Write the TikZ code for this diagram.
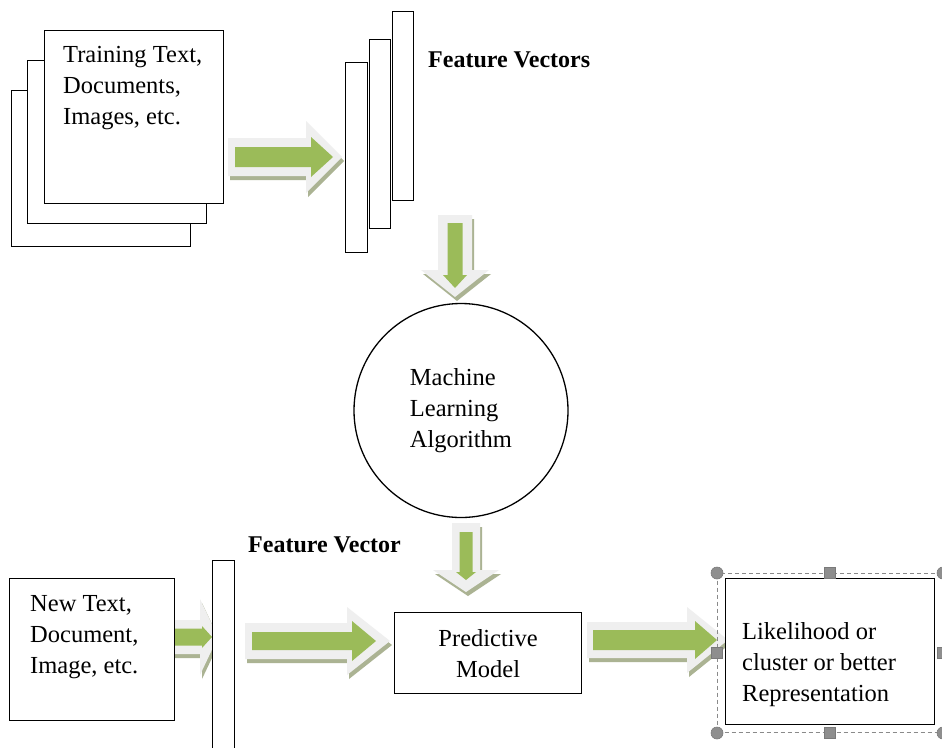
\documentclass[tikz,border=0pt]{standalone}
\usepackage{fontspec}
\setmainfont{Liberation Serif}
\definecolor{agreen}{HTML}{9BBB59}
\definecolor{abevel}{HTML}{EFEFEF}
\definecolor{ashadow}{HTML}{ABB393}
\definecolor{hgray}{HTML}{8E8E8E}
\definecolor{hedge}{HTML}{7A7A7A}
\definecolor{selgray}{HTML}{8A8A8A}

\pgfkeys{/ba/.cd, L/.store in=\baL, hl/.store in=\baHL, gs/.store in=\baGS, gh/.store in=\baGH,
  os/.store in=\baOS, oh/.store in=\baOH, ob/.store in=\baOB, ot/.store in=\baOT, oo/.store in=\baOO}

\newcommand{\blockarrow}[3]{%
  \pgfkeys{/ba/.cd,#1}%
  \begin{scope}[shift={#2}, xshift=2pt, yshift=-4pt, rotate=#3]
    \fill[ashadow] (\baOO,\baOS) -- (\baOB,\baOS) -- (\baOB,\baOH) -- (\baOT,0) -- (\baOB,-\baOH) -- (\baOB,-\baOS) -- (\baOO,-\baOS) -- cycle;
  \end{scope}
  \begin{scope}[shift={#2}, rotate=#3]
    \fill[abevel] (\baOO,\baOS) -- (\baOB,\baOS) -- (\baOB,\baOH) -- (\baOT,0) -- (\baOB,-\baOH) -- (\baOB,-\baOS) -- (\baOO,-\baOS) -- cycle;
    \fill[agreen] (0,\baGS) -- ({\baL-\baHL},\baGS) -- ({\baL-\baHL},\baGH) -- (\baL,0) -- ({\baL-\baHL},-\baGH) -- ({\baL-\baHL},-\baGS) -- (0,-\baGS) -- cycle;
  \end{scope}}

\begin{document}
\begin{tikzpicture}[x=1pt,y=-1pt,
  box/.style={draw, line width=1.3pt, fill=white, inner sep=0pt, anchor=north west},
  txt/.style={font=\fontsize{24.5}{31}\selectfont, inner sep=0pt, align=left, anchor=north west},
  boldlabel/.style={font=\bfseries\fontsize{24}{29}\selectfont, inner sep=0pt, anchor=base west},
  roundhandle/.style={circle, fill=hgray, draw=hedge, line width=0.6pt, minimum size=12pt, inner sep=0pt},
  squarehandle/.style={rectangle, fill=hgray, draw=hedge, line width=0.6pt, minimum size=11pt, inner sep=0pt}]
\useasboundingbox (0,0) rectangle (942,747);
\clip (0,0) rectangle (942,747);
\fill[white] (0,0) rectangle (942,747);

% block arrows
\blockarrow{L=98,hl=22,gs=10,gh=20,oo=-7,ob=71,ot=107,os=19,oh=36}{(235,157)}{0}
\blockarrow{L=65,hl=13,gs=7.5,gh=12,oo=-8,ob=47,ot=74,os=17,oh=34}{(455,223)}{-90}
\blockarrow{L=48,hl=8,gs=6.5,gh=10,oo=-9,ob=38,ot=60,os=14,oh=33}{(466,532)}{-90}
\blockarrow{L=37,hl=10,gs=8.5,gh=11,oo=-5,ob=25,ot=43,os=17,oh=38}{(175,637)}{0}
\blockarrow{L=124,hl=24,gs=9,gh=20,oo=-7,ob=95,ot=138,os=18,oh=34}{(252,641)}{0}
\blockarrow{L=124,hl=22,gs=10,gh=19,oo=-6,ob=94,ot=135,os=18,oh=33}{(593,640)}{0}

% training documents
\node[box, minimum width=179pt, minimum height=156pt] (doc3) at (11,90) {};
\node[box, minimum width=179pt, minimum height=163pt] (doc2) at (27,60) {};
\node[box, minimum width=179pt, minimum height=173pt] (doc1) at (44,30) {};
\node[txt] (doc1txt) at (63,46.5) {Training Text,\\Documents,\\Images, etc.};

% feature vectors
\node[box, minimum width=21pt, minimum height=189pt] (fv3) at (392,11) {};
\node[box, minimum width=21pt, minimum height=189pt] (fv2) at (369,39) {};
\node[box, minimum width=22pt, minimum height=190pt] (fv1) at (345,62) {};
\node[boldlabel] (fvlabel) at (428,67) {Feature Vectors};

% algorithm
\node[draw, circle, line width=1.3pt, minimum size=214pt, inner sep=0pt,
      font=\fontsize{24.5}{31}\selectfont, align=left] (mla) at (461,410.5) {Machine\\Learning\\Algorithm};

% new input
\node[boldlabel] (fvlabel2) at (248,552) {Feature Vector};
\node[box, minimum width=165pt, minimum height=142pt] (newdoc) at (9,578) {};
\node[txt] (newdoctxt) at (30,595.5) {New Text,\\Document,\\Image, etc.};
\node[box, minimum width=22pt, minimum height=200pt] (fvnew) at (212,560) {};

% predictive model
\node[box, minimum width=187pt, minimum height=81pt, font=\fontsize{24.5}{31}\selectfont, align=center] (pred) at (394,612) {Predictive\\Model};

% result with selection frame
\node[draw=selgray, dashed, dash pattern=on 4pt off 3pt, line width=1pt, inner sep=0pt, anchor=north west,
      minimum width=225pt, minimum height=159pt] (sel) at (717,573) {};
\node[box, minimum width=209pt, minimum height=146pt] (result) at (725,578) {};
\node[txt] (resulttxt) at (742,622.5) {Likelihood or\\cluster or better\\Representation};

\node[roundhandle] (h1) at (sel.north west) {};
\node[roundhandle] (h2) at (sel.south west) {};
\node[roundhandle] (h3) at (sel.north east) {};
\node[roundhandle] (h4) at (sel.south east) {};
\node[squarehandle] (h5) at (sel.north) {};
\node[squarehandle] (h6) at (sel.south) {};
\node[squarehandle] (h7) at (sel.west) {};
\node[squarehandle] (h8) at (sel.east) {};
\end{tikzpicture}
\end{document}
